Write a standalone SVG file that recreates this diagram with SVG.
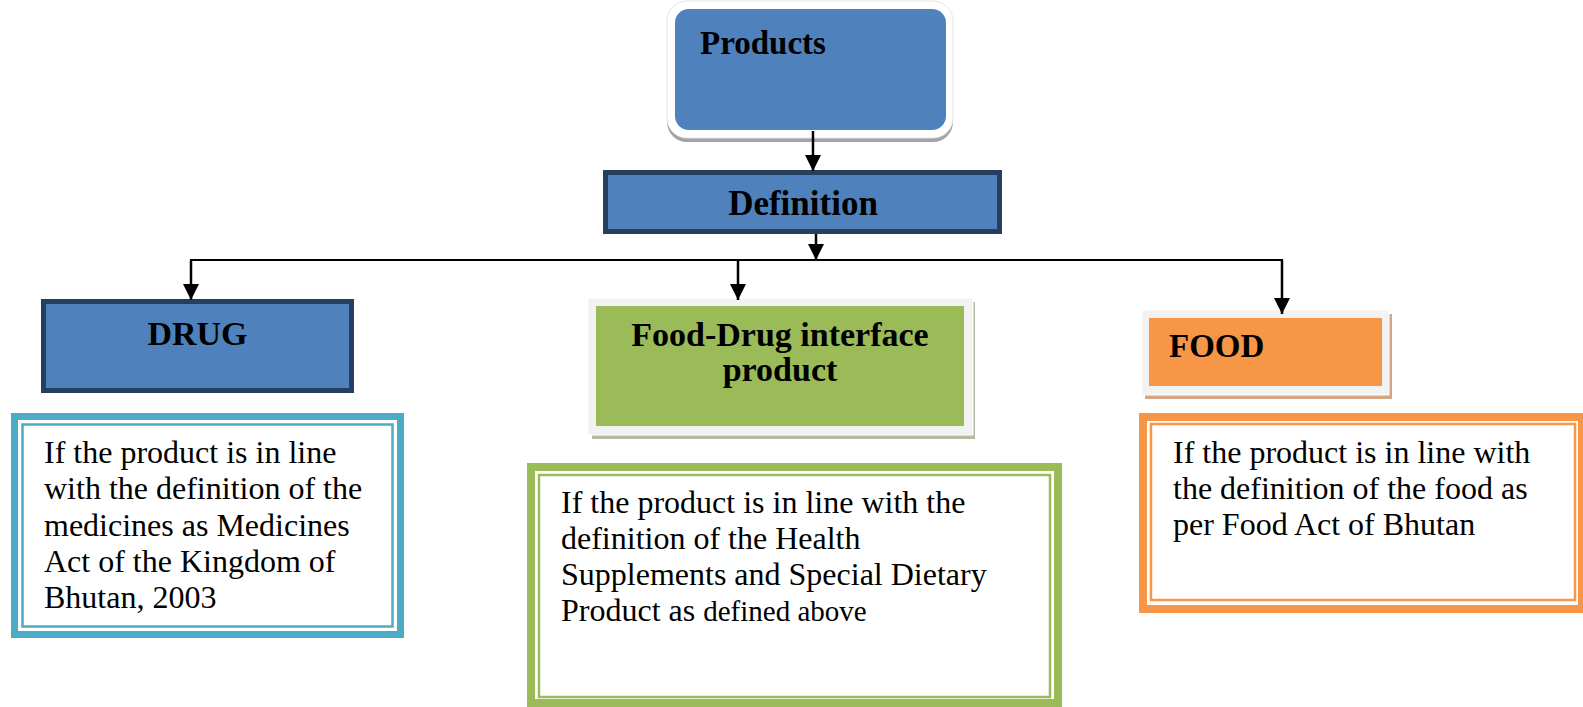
<svg xmlns="http://www.w3.org/2000/svg" width="1583" height="707" viewBox="0 0 1583 707">
  <style>
    .hd { font-family: "Liberation Serif", "Times New Roman", serif; font-weight: bold; fill: #000; }
    .bd { font-family: "Liberation Serif", "Times New Roman", serif; font-size: 32px; fill: #000; }
    .blue { fill: #4F81BD; }
    .navy { fill: #4F81BD; stroke: #243F60; stroke-width: 5; }
    .frame { fill: #F2F2F2; }
    .conn { stroke: #000; stroke-width: 2.5; fill: none; }
  </style>
  <defs>
    <marker id="arr" viewBox="0 0 16 16" markerWidth="16" markerHeight="16" markerUnits="userSpaceOnUse" refX="16" refY="8" orient="auto">
      <path d="M0,0 L16,8 L0,16 z" fill="#000"/>
    </marker>
  </defs>
  <rect width="1583" height="707" fill="#FFFFFF"/>

  <g id="products">
    <rect x="667" y="5" width="286" height="137" rx="20" fill="#A3A3A3"/>
    <rect x="667" y="1" width="286" height="137" rx="20" fill="#FFFFFF" stroke="#E3E3E3" stroke-width="1"/>
    <rect x="675" y="9" width="271" height="121" rx="14" class="blue"/>
    <text x="700" y="54" class="hd" font-size="33">Products</text>
  </g>

  <g id="definition">
    <rect x="605.5" y="172.5" width="394" height="59" class="navy"/>
    <text x="803" y="215" class="hd" font-size="35" text-anchor="middle">Definition</text>
  </g>

  <g id="drug">
    <rect x="43.5" y="301.5" width="308" height="89" class="navy"/>
    <text x="197.5" y="345" class="hd" font-size="34" text-anchor="middle">DRUG</text>
  </g>

  <g id="food-drug">
    <rect x="592" y="302" width="383" height="137" fill="#B3BBA5"/>
    <rect x="588" y="298" width="385" height="137" class="frame" stroke="#FFFFFF" stroke-width="1"/>
    <rect x="596" y="306" width="368" height="120" fill="#9BBB59"/>
    <text x="780" y="346" class="hd" font-size="34" text-anchor="middle">Food-Drug interface</text>
    <text x="780" y="381" class="hd" font-size="34" text-anchor="middle">product</text>
  </g>

  <g id="food">
    <rect x="1145" y="314" width="247" height="85" fill="#D6A585"/>
    <rect x="1142" y="310" width="247" height="85" class="frame" stroke="#FFFFFF" stroke-width="1"/>
    <rect x="1149" y="318" width="233" height="68" fill="#F79646"/>
    <text x="1169" y="357" class="hd" font-size="33">FOOD</text>
  </g>

  <g id="drug-text">
    <rect x="14.5" y="416.5" width="386" height="218" fill="#FFFFFF" stroke="#4BACC6" stroke-width="7"/>
    <rect x="22.5" y="424.5" width="370" height="202" fill="none" stroke="#4BACC6" stroke-width="2.5"/>
    <text class="bd">
      <tspan x="44" y="463">If the product is in line</tspan>
      <tspan x="44" y="499">with the definition of the</tspan>
      <tspan x="44" y="536">medicines as Medicines</tspan>
      <tspan x="44" y="572">Act of the Kingdom of</tspan>
      <tspan x="44" y="608">Bhutan, 2003</tspan>
    </text>
  </g>

  <g id="food-drug-text">
    <rect x="531" y="467" width="527" height="236" fill="#FFFFFF" stroke="#9BBB59" stroke-width="8"/>
    <rect x="539" y="475" width="511" height="222" fill="none" stroke="#9BBB59" stroke-width="2.5"/>
    <text class="bd">
      <tspan x="561" y="513">If the product is in line with the</tspan>
      <tspan x="561" y="549">definition of the Health</tspan>
      <tspan x="561" y="585">Supplements and Special Dietary</tspan>
      <tspan x="561" y="621">Product as <tspan font-size="29">defined above</tspan></tspan>
    </text>
  </g>

  <g id="food-text">
    <rect x="1143" y="417" width="439" height="192" fill="#FFFFFF" stroke="#F79646" stroke-width="8"/>
    <rect x="1151" y="424" width="424" height="176" fill="none" stroke="#F79646" stroke-width="2.5"/>
    <text class="bd">
      <tspan x="1173" y="463">If the product is in line with</tspan>
      <tspan x="1173" y="499">the definition of the food as</tspan>
      <tspan x="1173" y="535">per Food Act of Bhutan</tspan>
    </text>
  </g>

  <g id="connectors">
    <line x1="813" y1="131" x2="813" y2="171" class="conn" marker-end="url(#arr)"/>
    <line x1="816" y1="234" x2="816" y2="260" class="conn" marker-end="url(#arr)"/>
    <polyline points="191,300 191,260 1282,260 1282,314" fill="none" stroke="#000" stroke-width="2"/>
    <line x1="191" y1="260" x2="191" y2="300" class="conn" marker-end="url(#arr)"/>
    <line x1="738" y1="260" x2="738" y2="300" class="conn" marker-end="url(#arr)"/>
    <line x1="1282" y1="260" x2="1282" y2="314" class="conn" marker-end="url(#arr)"/>
  </g>
</svg>
